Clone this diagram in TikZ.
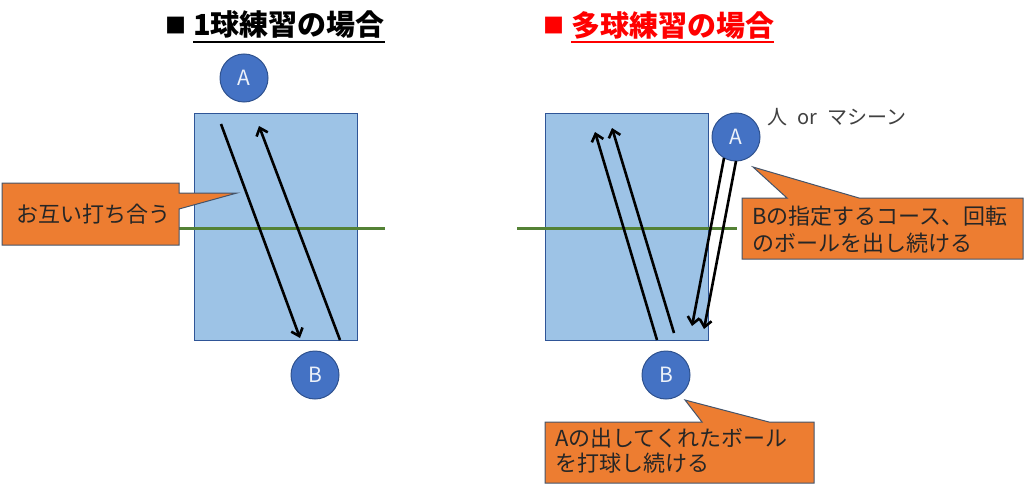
\documentclass[tikz,border=0pt]{standalone}
\usepackage{fontspec}
\newfontfamily\jp{Noto Sans CJK JP}
\usetikzlibrary{arrows.meta}
\definecolor{court}{HTML}{9DC3E6}
\definecolor{courtline}{HTML}{2F5597}
\definecolor{player}{HTML}{4472C4}
\definecolor{playerline}{HTML}{2F528F}
\definecolor{callfill}{HTML}{ED7D31}
\definecolor{callline}{HTML}{44546A}
\definecolor{netgreen}{HTML}{548235}
\definecolor{titlered}{HTML}{FF0000}
\definecolor{txt}{HTML}{262626}
\definecolor{labgray}{HTML}{404040}
\tikzset{
  courtbox/.style={draw=courtline, fill=court, line width=1pt},
  playercirc/.style={circle, draw=playerline, fill=player, line width=1pt, minimum size=48pt, inner sep=0pt, text=white!90!player, font=\jp\fontsize{21}{21}\selectfont},
  callout/.style={draw=callline, fill=callfill, line width=1pt, line join=miter},
  calltext/.style={anchor=west, align=left, inner sep=0pt, text=txt, font=\jp\fontsize{22}{27}\selectfont},
  ball/.style={line width=2.6pt, -{Straight Barb[length=7pt,width=12pt,line width=2.6pt]}},
  net/.style={draw=netgreen, line width=3pt},
  titletext/.style={anchor=west, inner sep=0pt, font=\jp\bfseries\fontsize{29}{29}\selectfont},
  titlesq/.style={anchor=west, inner sep=0pt, font=\jp\fontsize{21}{21}\selectfont},
  uline/.style={line width=2pt}
}
\begin{document}
\begin{tikzpicture}[x=1pt,y=-1pt]
\useasboundingbox (0,0) rectangle (1024,492);
% ---------- left : single ball ----------
\node[titlesq] (sq1) at (165,26) {■};
\node[titletext] (t1) at (193,25) {1球練習の場合};
\draw[uline] ([yshift=-3pt]t1.south west) -- ([yshift=-3pt]t1.south east);

\draw[courtbox] (194,114) rectangle (357,340);
\draw[net] (170,228) -- (385,228);

\node[playercirc] (A1) at (244,78) {A};
\node[playercirc] (B1) at (315,375) {B};

\coordinate (p1s) at (221,124);
\coordinate (p1e) at (300,338);
\coordinate (p2s) at (340,340);
\coordinate (p2e) at (259,126);
\draw[ball] (p1s) -- (p1e);
\draw[ball] (p2s) -- (p2e);

\draw[callout] (2,183) -- (179,183) -- (179,193) -- (237,193) -- (179,209) -- (179,245) -- (2,245) -- cycle;
\node[calltext] (c1) at (16,214) {お互い打ち合う};

% ---------- right : multi ball ----------
\node[titlesq,text=titlered] (sq2) at (543,26) {■};
\node[titletext,text=titlered] (t2) at (571,25) {多球練習の場合};
\draw[uline,titlered] ([yshift=-3pt]t2.south west) -- ([yshift=-3pt]t2.south east);

\draw[courtbox] (545,114) rectangle (708,340);
\draw[net] (517,228) -- (737,228);

\node[playercirc] (A2) at (736,137) {A};
\node[playercirc] (B2) at (666,375) {B};
\node[anchor=west, inner sep=0pt, text=labgray, font=\jp\fontsize{20}{20}\selectfont] (lab) at (767,117) {人\hspace{0.5em}or\hspace{0.5em}マシーン};

\coordinate (q1s) at (657,340);
\coordinate (q1e) at (595,132);
\coordinate (q2s) at (674,333);
\coordinate (q2e) at (612,128);
\coordinate (q3s) at (724,158);
\coordinate (q3e) at (692,326);
\coordinate (q4s) at (736,161);
\coordinate (q4e) at (704,329);
\draw[ball] (q1s) -- (q1e);
\draw[ball] (q2s) -- (q2e);
\draw[ball] (q3s) -- (q3e);
\draw[ball] (q4s) -- (q4e);

\draw[callout] (742,198) -- (787,198) -- (753,167) -- (859,198) -- (1023,198) -- (1023,259) -- (742,259) -- cycle;
\node[calltext] (c2) at (752,229.5) {Bの指定するコース、回転\\のボールを出し続ける};

\draw[callout] (545,422) -- (702,422) -- (685,400) -- (769,422) -- (814,422) -- (814,483) -- (545,483) -- cycle;
\node[calltext, font=\jp\fontsize{22}{25}\selectfont] (c3) at (555,451) {Aの出してくれたボール\\を打球し続ける};
\end{tikzpicture}
\end{document}
